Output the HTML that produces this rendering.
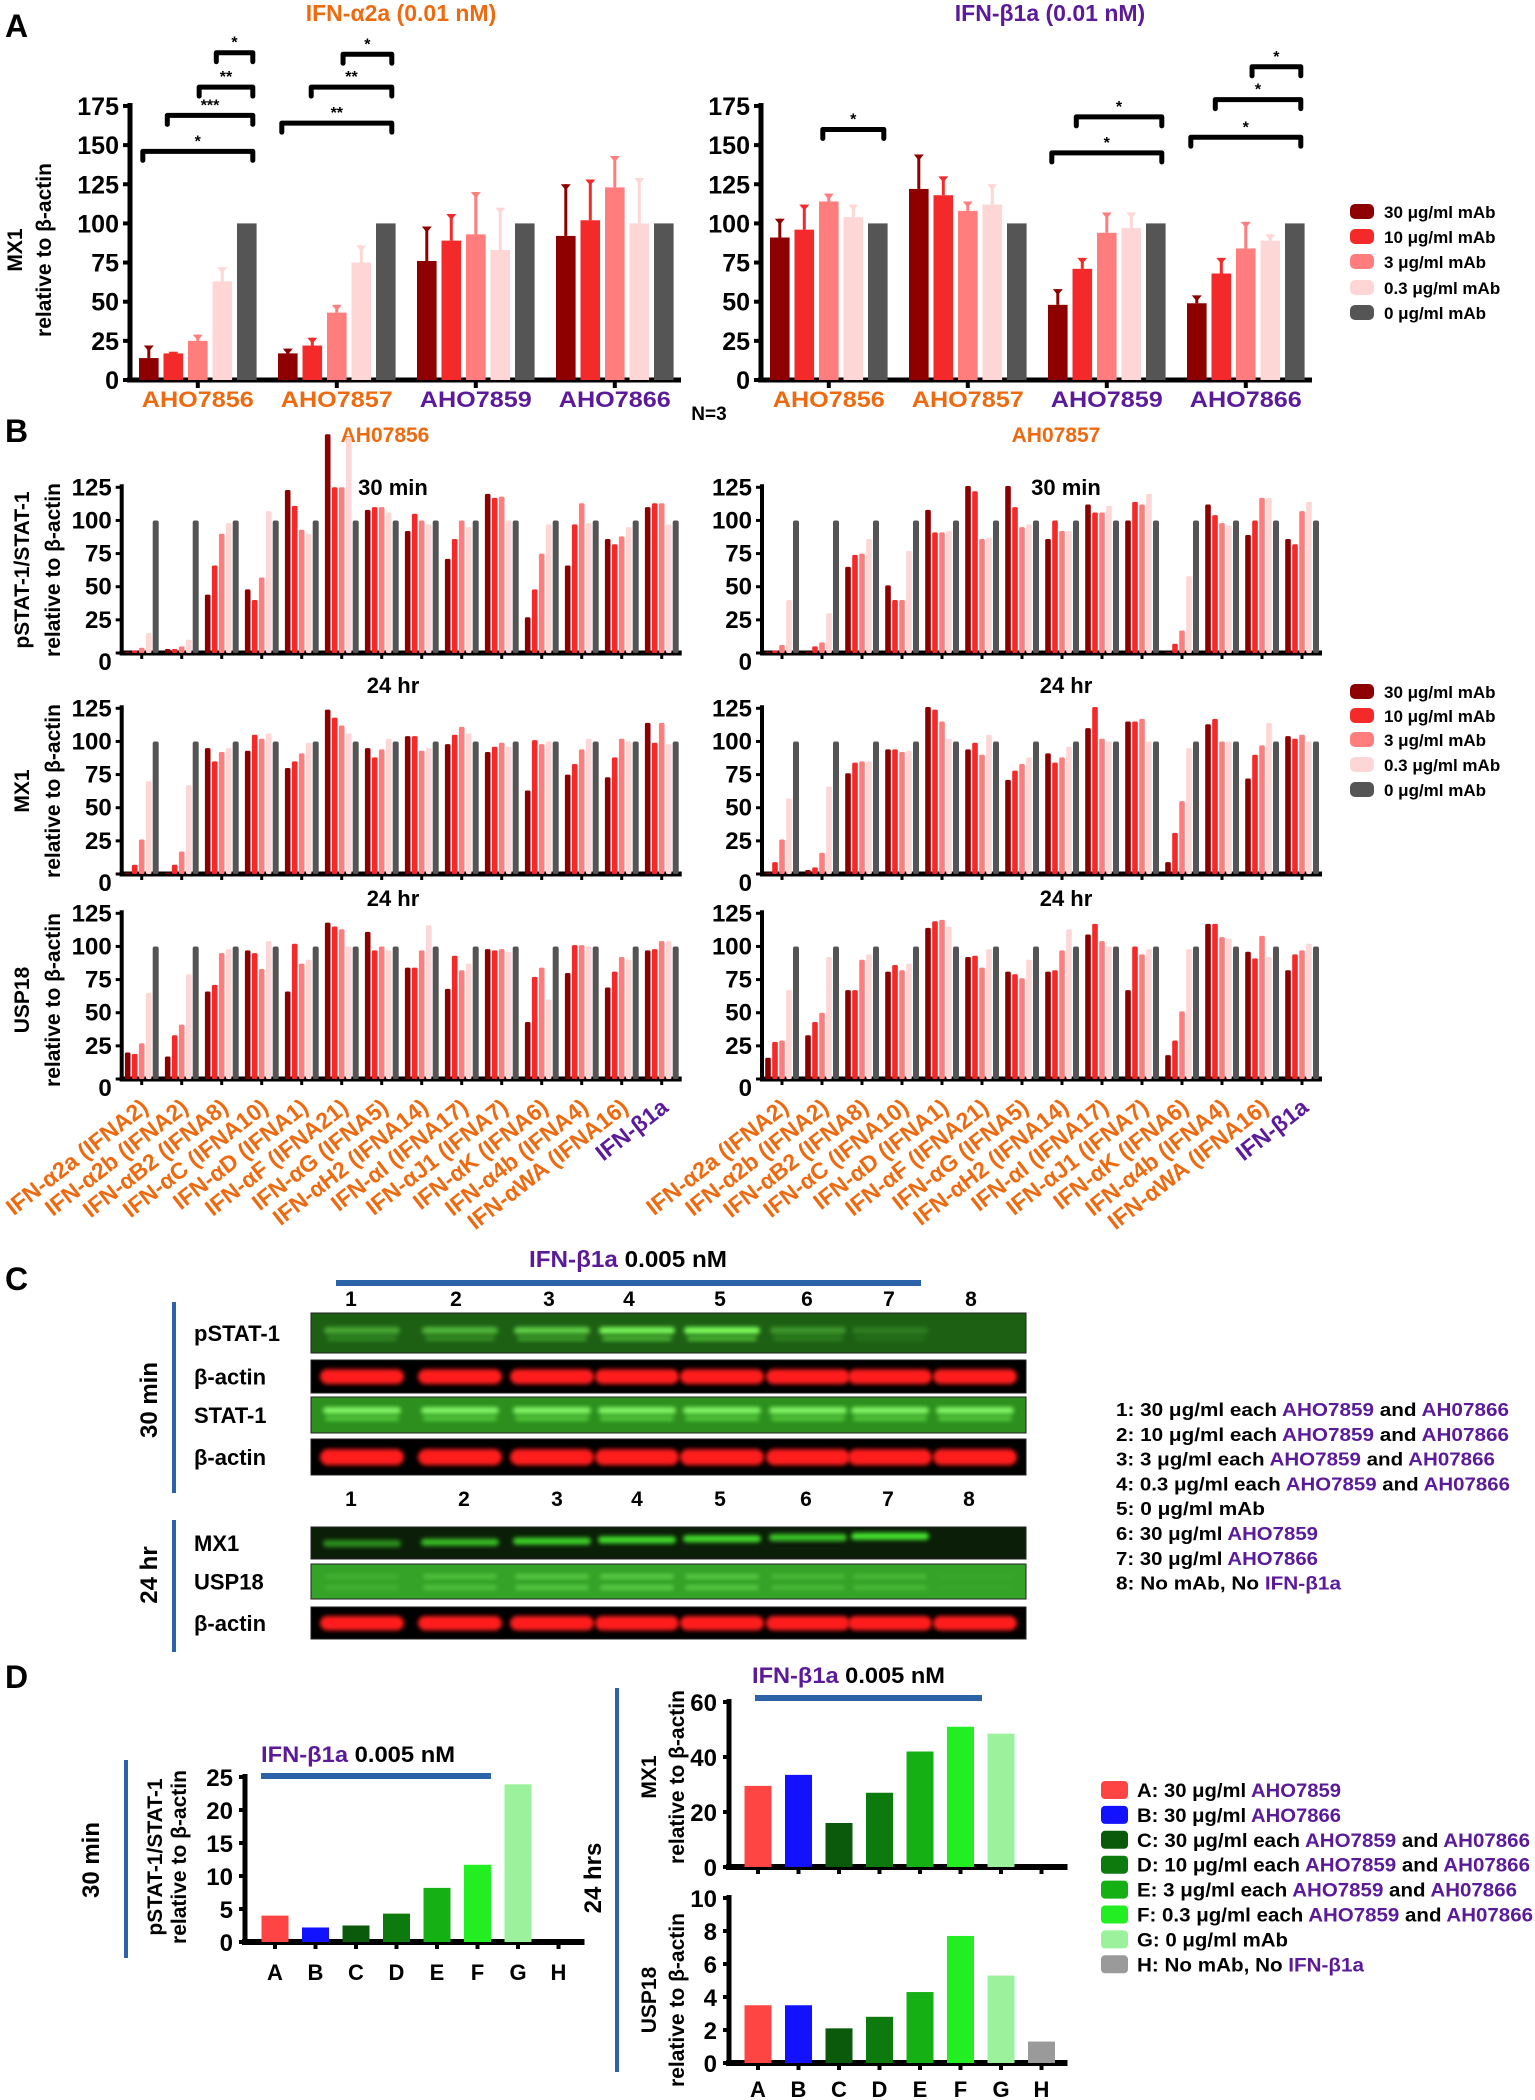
<!DOCTYPE html>
<html><head><meta charset="utf-8">
<style>
html,body{margin:0;padding:0;background:#fff;}
svg{display:block;font-family:"Liberation Sans",sans-serif;}
text{font-weight:bold;}
</style></head>
<body>
<svg id="fig" width="1535" height="2100" viewBox="0 0 1535 2100">
<defs><filter id="blur" x="-20%" y="-50%" width="140%" height="200%"><feGaussianBlur stdDeviation="2.2"/></filter></defs>
<text x="5" y="37" font-size="32" font-weight="normal">A</text>
<text x="401" y="21" font-size="23" fill="#ee6a10" text-anchor="middle">IFN-α2a (0.01 nM)</text>
<text x="1050" y="21" font-size="23" fill="#5a1a9a" text-anchor="middle">IFN-β1a (0.01 nM)</text>
<text transform="translate(22,250) rotate(-90)" font-size="21" text-anchor="middle">MX1</text>
<text transform="translate(51,250) rotate(-90)" font-size="21" text-anchor="middle">relative to β-actin</text>
<text x="709" y="420" font-size="19" text-anchor="middle">N=3</text>
<text x="5" y="442" font-size="32" font-weight="normal">B</text>
<text x="385" y="442" font-size="21" fill="#ee6a10" text-anchor="middle">AH07856</text>
<text x="1056" y="442" font-size="21" fill="#ee6a10" text-anchor="middle">AH07857</text>
<text x="5" y="1290" font-size="32" font-weight="normal">C</text>
<text x="5" y="1688" font-size="32" font-weight="normal">D</text>
</svg>
<script>
const SVGNS='http://www.w3.org/2000/svg';
const svg=document.getElementById('fig');
function mk(tag,attrs,parent){const el=document.createElementNS(SVGNS,tag);for(const k in attrs)el.setAttribute(k,attrs[k]);(parent||svg).appendChild(el);return el;}
const ORANGE='#ee6a10', PURPLE='#5a1a9a';
const mabColors=['#8e0000','#f42a2a','#ff7d7d','#ffd6d6','#555555'];
const mabLabels=['30 μg/ml mAb','10 μg/ml mAb','3 μg/ml mAb','0.3 μg/ml mAb','0 μg/ml mAb'];

/* ---------- Panel A data ---------- */
const aGroups=['AHO7856','AHO7857','AHO7859','AHO7866'];
const aGroupColor=[ORANGE,ORANGE,PURPLE,PURPLE];
const aTicks=[0,25,50,75,100,125,150,175];
const aLeftVals=[[14,17,25,63,100],[17,22,43,75,100],[76,89,93,83,100],[92,102,123,100,100]];
const aLeftErr=[[8,1,4,9,0],[3,5,5,11,0],[22,17,27,27,0],[33,26,20,29,0]];
const aRightVals=[[91,96,114,104,100],[122,118,108,112,100],[48,71,94,97,100],[49,68,84,89,100]];
const aRightErr=[[12,16,5,8,0],[22,12,6,13,0],[10,7,13,10,0],[5,10,17,4,0]];
const aLeftBrackets=[[0,0,4,146,'*'],[0,1,4,169,'***'],[0,2.3,4,187,'**'],[0,3,4,209,'*'],[1,0,4,164,'**'],[1,1.2,4,187,'**'],[1,2.5,4,208,'*']];
const aRightBrackets=[[0,2,4,160,'*'],[2,1,4,168,'*'],[2,0,4,145,'*'],[3,2.5,4,200,'*'],[3,1,4,179,'*'],[3,0,4,155,'*']];

function drawA(axisX,vals,errs,brackets,side){
  const y=v=>380-v*1.566;
  const bx=(g,k)=>axisX+18.8+139*g+24.5*k;
  const ax=mk('line',{x1:axisX,y1:382,x2:axisX,y2:y(175)-3,stroke:'#000','stroke-width':5});
  
  
  const xa=mk('line',{x1:axisX-3,y1:380,x2:axisX+551,y2:380,stroke:'#000','stroke-width':5});
  
  
  aTicks.forEach(t=>{
    const tk=mk('line',{x1:axisX-7,y1:y(t),x2:axisX,y2:y(t),stroke:'#000','stroke-width':4});
    
    
    const tl=mk('text',{x:axisX-11,y:y(t)+9,'font-size':25,'text-anchor':'end'});
    tl.textContent=t;
    
    
  });
  aGroups.forEach((gname,g)=>{
    const gl=mk('text',{x:bx(g,2),y:407,'font-size':22,'text-anchor':'middle',fill:aGroupColor[g],textLength:112,lengthAdjust:'spacingAndGlyphs'});
    gl.textContent=gname;
    
    
    const xt=mk('line',{x1:bx(g,2),y1:380,x2:bx(g,2),y2:388,stroke:'#000','stroke-width':4});
    
    
    vals[g].forEach((v,k)=>{
      const c=bx(g,k);
      const r=mk('rect',{x:c-9.8,y:y(v),width:19.6,height:380-y(v),fill:mabColors[k]});
      
      
      if(errs[g][k]>0){
        const e=mk('line',{x1:c,y1:y(v),x2:c,y2:y(v+errs[g][k]),stroke:mabColors[k],'stroke-width':3});
        
        
        const cap=mk('path',{d:`M${c-5},${y(v+errs[g][k])} L${c+5},${y(v+errs[g][k])} L${c},${y(v+errs[g][k])+6} Z`,fill:mabColors[k]});
        
        
      }
    });
  });
  brackets.forEach(b=>{
    const x1=bx(b[0],b[1])-6, x2=bx(b[0],b[2])+6, yy=y(b[3]);
    const p=mk('path',{d:`M${x1},${yy+9} L${x1},${yy} L${x2},${yy} L${x2},${yy+9}`,fill:'none',stroke:'#000','stroke-width':5,'stroke-linejoin':'round','stroke-linecap':'round'});
    
    
    const s=mk('text',{x:(x1+x2)/2,y:yy-5,'font-size':16,'text-anchor':'middle'});
    s.textContent=b[4];
    
    
  });
}
drawA(130,aLeftVals,aLeftErr,aLeftBrackets,'left');
drawA(761,aRightVals,aRightErr,aRightBrackets,'right');

function legend(x,ys,prefix){
  mabLabels.forEach((lab,i)=>{
    const s=mk('rect',{x:x,y:ys[i]-13,width:24,height:15,rx:5,fill:mabColors[i]});
    
    
    const t=mk('text',{x:x+34,y:ys[i]+1,'font-size':17});
    t.textContent=lab;
    
    
  });
}
legend(1350,[217,242,267,293,318],'a');

/* ---------- Panel B data ---------- */
const bCategories=['IFN-α2a (IFNA2)','IFN-α2b (IFNA2)','IFN-αB2 (IFNA8)','IFN-αC (IFNA10)','IFN-αD (IFNA1)','IFN-αF (IFNA21)','IFN-αG (IFNA5)','IFN-αH2 (IFNA14)','IFN-αI (IFNA17)','IFN-αJ1 (IFNA7)','IFN-αK (IFNA6)','IFN-α4b (IFNA4)','IFN-αWA (IFNA16)','IFN-β1a'];
const bTicks=[0,25,50,75,100,125];
const bL_pstat=[[1,2,4,15],[3,3,5,10],[44,66,90,98],[48,40,57,107],[123,111,93,90],[165,125,125,163],[108,110,110,106],[92,105,100,97],[71,86,100,95],[120,117,118,100],[27,48,75,97],[66,97,113,98],[86,82,88,95],[110,113,113,97]];
const bL_mx1=[[1,7,26,70],[1,7,17,67],[95,85,92,95],[93,105,102,106],[80,85,91,99],[124,118,112,106],[95,88,94,102],[104,104,93,95],[98,105,111,106],[92,96,99,96],[63,101,98,100],[75,83,94,102],[73,88,102,100],[114,99,114,98]];
const bL_usp=[[20,19,27,65],[17,33,41,79],[66,71,95,98],[97,95,83,104],[66,102,87,90],[118,115,113,100],[111,97,100,97],[84,84,97,116],[68,93,82,87],[98,97,98,96],[43,77,84,60],[80,101,101,100],[69,81,92,90],[97,98,104,104]];
const bR_pstat=[[1,2,6,40],[1,5,8,30],[65,74,75,86],[51,40,40,77],[108,91,91,92],[126,122,86,87],[126,110,95,97],[86,100,92,92],[112,106,106,111],[100,114,112,120],[0,7,17,58],[112,104,98,96],[89,100,117,117],[86,82,107,114]];
const bR_mx1=[[1,9,26,57],[3,5,16,66],[76,84,85,85],[94,94,92,93],[126,124,115,102],[94,99,90,105],[71,78,83,88],[91,84,88,96],[110,126,102,100],[115,115,117,100],[9,31,55,95],[113,117,100,100],[72,90,97,114],[104,102,105,100]];
const bR_usp=[[16,28,29,67],[33,43,50,92],[67,67,90,94],[81,86,82,87],[114,119,120,115],[92,93,84,98],[81,79,76,90],[81,82,97,113],[109,117,104,100],[67,100,94,98],[18,29,51,98],[117,117,107,106],[96,91,108,92],[82,94,97,102]];
const bControl=100;

function drawB(axisX,zeroY,vals,name){
  const u=165.7/125;
  const y=v=>zeroY-v*u;
  const gx=i=>axisX+34+40*i;
  const ax=mk('line',{x1:axisX,y1:zeroY+2,x2:axisX,y2:y(125)-3,stroke:'#000','stroke-width':4});
  
  
  const xa=mk('line',{x1:axisX-2,y1:zeroY,x2:gx(13)+6,y2:zeroY,stroke:'#000','stroke-width':5});
  
  
  bTicks.forEach(t=>{
    const tk=mk('line',{x1:axisX-6,y1:y(t),x2:axisX,y2:y(t),stroke:'#000','stroke-width':3});
    
    
    const tl=mk('text',{x:axisX-10,y:y(t)+(t===0?17:8),'font-size':24,'text-anchor':'end'});
    tl.textContent=t;
    
    
  });
  vals.forEach((grp,i)=>{
    const xt=mk('line',{x1:gx(i)-14,y1:zeroY,x2:gx(i)-14,y2:zeroY+6,stroke:'#000','stroke-width':3});
    
    
    grp.forEach((v,k)=>{
      const c=gx(i)-28+7*k, vv=Math.max(v,0.8);
      const r=mk('rect',{x:c-2.8,y:y(vv),width:5.6,height:zeroY-y(vv),fill:mabColors[k],rx:1.5});
      
      
    });
    const gr=mk('rect',{x:gx(i)-3,y:y(bControl),width:6,height:zeroY-y(bControl),fill:mabColors[4],rx:2});
    
    
  });
}
const rowZero=[653,874,1079];
drawB(121.7,rowZero[0],bL_pstat,'left-pstat');
drawB(121.7,rowZero[1],bL_mx1,'left-mx1');
drawB(121.7,rowZero[2],bL_usp,'left-usp18');
drawB(762,rowZero[0],bR_pstat,'right-pstat');
drawB(762,rowZero[1],bR_mx1,'right-mx1');
drawB(762,rowZero[2],bR_usp,'right-usp18');

[[393,'30 min',495],[393,'24 hr',693],[393,'24 hr',906],[1066,'30 min',495],[1066,'24 hr',693],[1066,'24 hr',906]].forEach(r=>{
  const t=mk('text',{x:r[0],y:r[2],'font-size':22,'text-anchor':'middle'});
  t.textContent=r[1];
  
  
});
[['pSTAT-1/STAT-1',29,570],['relative to β-actin',60,570],['MX1',29,791],['relative to β-actin',60,791],['USP18',29,1000],['relative to β-actin',60,1000]].forEach(r=>{
  const t=mk('text',{transform:`translate(${r[1]},${r[2]}) rotate(-90)`,'font-size':21,'text-anchor':'middle'});
  t.textContent=r[0];
  
  
});
[121.7,762].forEach(axisX=>{
  bCategories.forEach((c,i)=>{
    const x=axisX+34+40*i-14+8;
    const t=mk('text',{transform:`translate(${x},1110) rotate(-38)`,'font-size':23,'text-anchor':'end',fill:i===13?PURPLE:ORANGE});
    t.textContent=c;
    
    
  });
});
legend(1350,[697,721,745,770,795],'b');

/* ---------- Panel C (blots) ---------- */
const laneNums=['1','2','3','4','5','6','7','8'];
const laneNumX1=[351,456,549,629,720,807,889,971];
const laneNumX2=[351,464,557,637,720,806,888,969];
const bandX=[362,460,552,637,722,808,890,975];
const pstatI=[0.45,0.55,0.7,0.95,1.0,0.35,0.18,0];
const mx1I=[0.5,0.7,0.8,0.85,0.85,0.75,0.9,0];
const uspI=[0.2,0.4,0.5,0.55,0.5,0.3,0.3,0.05];
function blot(y0,h,bg,name,lbl,bandFn){
  const r=mk('rect',{x:311,y:y0,width:715,height:h,fill:bg,stroke:'#222','stroke-width':1});
  
  
  const t=mk('text',{x:194,y:y0+h/2+8,'font-size':22});
  t.textContent=lbl;
  
  
  bandX.forEach((x,i)=>bandFn(x,i,y0,h));
}
function band(x,y,w,h,col,op,name){
  const b=mk('rect',{x:x-w/2,y:y,width:w,height:h,rx:h/2,fill:col,opacity:op,filter:'url(#blur)'});
  
  
}
const redBand=(x,i,y0,h)=>band(x,y0+h*0.28,84,h*0.45,'#ff1a1a',1,'actin-band');
blot(1313,40,'#1d6014','pstat1','pSTAT-1',(x,i,y0,h)=>{ if(pstatI[i]>0){band(x,y0+14,76,7,'#7dff5a',pstatI[i],'pstat1-band');band(x,y0+23,70,5,'#5ee040',pstatI[i]*0.7,'pstat1-band');}});
blot(1360,33,'#000','actin1','β-actin',redBand);
blot(1397,36,'#2c8f1e','stat1','STAT-1',(x,i,y0,h)=>{band(x,y0+10,78,7,'#8aff6a',0.9,'stat1-band');band(x,y0+19,74,5,'#70f050',0.6,'stat1-band');});
blot(1439,36,'#000','actin2','β-actin',redBand);
blot(1527,32,'#0b1f08','mx1','MX1',(x,i,y0,h)=>{ if(mx1I[i]>0) band(x,y0+13-i*1.2,78,7,'#4cff30',mx1I[i],'mx1-band');});
blot(1564,35,'#34a328','usp18','USP18',(x,i,y0,h)=>{band(x,y0+10,74,5,'#7af060',uspI[i],'usp18-band');band(x,y0+21,74,5,'#7af060',uspI[i],'usp18-band');});
blot(1607,32,'#000','actin3','β-actin',redBand);
laneNums.forEach((n,i)=>{
  const a=mk('text',{x:laneNumX1[i],y:1306,'font-size':21,'text-anchor':'middle'});
  a.textContent=n;
  
  
  const b=mk('text',{x:laneNumX2[i],y:1506,'font-size':21,'text-anchor':'middle'});
  b.textContent=n;
  
  
});
const cLine=mk('line',{x1:336,y1:1283,x2:921,y2:1283,stroke:'#2c62a8','stroke-width':6});


[[1302,1493],[1520,1652]].forEach(s=>{
  const l=mk('line',{x1:174,y1:s[0],x2:174,y2:s[1],stroke:'#2c62a8','stroke-width':4});
  
  
});
[['30 min',1400],['24 hr',1575]].forEach(r=>{
  const t=mk('text',{transform:`translate(157,${r[1]}) rotate(-90)`,'font-size':24,'text-anchor':'middle'});
  t.textContent=r[0];
  
  
});
function richText(x,y,parts,len,fs,name){
  const t=mk('text',{x:x,y:y,'font-size':fs,textLength:len,lengthAdjust:'spacingAndGlyphs'});
  
  
  parts.forEach(p=>{const s=mk('tspan',{fill:p[1]||'#000'},t);s.textContent=p[0];});
  return t;
}
richText(529,1267,[['IFN-β1a ',PURPLE],['0.005 nM']],198,23,'c-title');
const cLegend=[
 [[['1: 30 μg/ml each '],['AHO7859',PURPLE],['  and '],['AH07866',PURPLE]],393],
 [[['2: 10 μg/ml each '],['AHO7859',PURPLE],['  and '],['AH07866',PURPLE]],393],
 [[['3: 3 μg/ml each '],['AHO7859',PURPLE],['  and '],['AH07866',PURPLE]],379],
 [[['4: 0.3 μg/ml each '],['AHO7859',PURPLE],['  and '],['AH07866',PURPLE]],394],
 [[['5: 0 μg/ml mAb']],149],
 [[['6: 30 μg/ml '],['AHO7859',PURPLE]],202],
 [[['7: 30 μg/ml '],['AHO7866',PURPLE]],202],
 [[['8: No mAb,  No '],['IFN-β1a',PURPLE]],225]];
cLegend.forEach((l,i)=>richText(1116,1416+24.8*i,l[0],l[1],18,'c-legend-entry'));

/* ---------- Panel D data ---------- */
const dLetters=['A','B','C','D','E','F','G','H'];
const dColors=['#ff4444','#1212ff','#0b5a0b','#0d7a0d','#14b014','#22ee22','#9cf29c','#9a9a9a'];
const dPstat=[4,2.2,2.5,4.3,8.2,11.7,23.9,0];
const dMx1=[29.5,33.5,16,27,42,51,48.5,0];
const dUsp=[3.5,3.5,2.1,2.8,4.3,7.7,5.3,1.3];
const dPstatTicks=[0,5,10,15,20,25];
const dMx1Ticks=[0,20,40,60];
const dUspTicks=[0,2,4,6,8,10];
function drawD(axisX,zeroY,unit,firstX,vals,ticks,name,showLetters,letterY){
  const y=v=>zeroY-v*unit;
  const top=y(ticks[ticks.length-1]);
  const ax=mk('line',{x1:axisX,y1:zeroY+2,x2:axisX,y2:top-3,stroke:'#000','stroke-width':5});
  
  
  const xa=mk('line',{x1:axisX-3,y1:zeroY,x2:firstX+40.5*7+26,y2:zeroY,stroke:'#000','stroke-width':6});
  
  
  ticks.forEach(t=>{
    const tk=mk('line',{x1:axisX-6,y1:y(t),x2:axisX,y2:y(t),stroke:'#000','stroke-width':4});
    
    
    const tl=mk('text',{x:axisX-12,y:y(t)+9,'font-size':24,'text-anchor':'end'});
    tl.textContent=t;
    
    
  });
  vals.forEach((v,i)=>{
    const c=firstX+40.5*i;
    const xt=mk('line',{x1:c,y1:zeroY,x2:c,y2:zeroY+7,stroke:'#000','stroke-width':4});
    
    
    if(v>0){
      const r=mk('rect',{x:c-13.5,y:y(v),width:27,height:zeroY-y(v),fill:dColors[i]});
      
      
    }
    if(showLetters){
      const l=mk('text',{x:c,y:letterY,'font-size':22,'text-anchor':'middle','font-weight':'normal'});
      l.textContent=dLetters[i];
      
      
    }
  });
}
drawD(245,1942,6.6,275,dPstat,dPstatTicks,'d-pstat',true,1980);
drawD(729,1867,2.75,758,dMx1,dMx1Ticks,'d-mx1',false,0);
drawD(729,2063,16.5,758,dUsp,dUspTicks,'d-usp18',true,2097);
richText(261,1762,[['IFN-β1a ',PURPLE],['0.005 nM']],194,22,'d-left-title');
richText(752,1683,[['IFN-β1a ',PURPLE],['0.005 nM']],193,22,'d-right-title');
[[261,491,1776],[755,982,1698]].forEach(s=>{
  const l=mk('line',{x1:s[0],y1:s[2],x2:s[1],y2:s[2],stroke:'#2c62a8','stroke-width':6});
  
  
});
[[126,1760,1958],[617,1688,2072]].forEach(s=>{
  const l=mk('line',{x1:s[0],y1:s[1],x2:s[0],y2:s[2],stroke:'#2c62a8','stroke-width':4});
  
  
});
[['30 min',99,1860,24],['24 hrs',601,1878,24],['pSTAT-1/STAT-1',162,1857,21],['relative to β-actin',186,1857,21],['MX1',656,1777,21],['relative to β-actin',684,1777,21],['USP18',656,2000,21],['relative to β-actin',684,2000,21]].forEach(r=>{
  const t=mk('text',{transform:`translate(${r[1]},${r[2]}) rotate(-90)`,'font-size':r[3],'text-anchor':'middle'});
  t.textContent=r[0];
  
  
});
const dLegend=[
 [[['A:  30 μg/ml '],['AHO7859',PURPLE]],204],
 [[['B: 30 μg/ml '],['AHO7866',PURPLE]],204],
 [[['C: 30 μg/ml each '],['AHO7859',PURPLE],['  and '],['AH07866',PURPLE]],393],
 [[['D: 10 μg/ml each '],['AHO7859',PURPLE],['  and '],['AH07866',PURPLE]],393],
 [[['E: 3 μg/ml each '],['AHO7859',PURPLE],['  and '],['AH07866',PURPLE]],380],
 [[['F: 0.3 μg/ml each '],['AHO7859',PURPLE],['  and '],['AH07866',PURPLE]],396],
 [[['G: 0 μg/ml mAb']],151],
 [[['H: No mAb,  No '],['IFN-β1a',PURPLE]],227]];
dLegend.forEach((l,i)=>{
  const yy=1790+24.9*i;
  const s=mk('rect',{x:1101,y:yy-9,width:27,height:18,rx:4,fill:dColors[i]});
  
  
  richText(1137,yy+7,l[0],l[1],19,'d-legend-entry');
});
</script>
</body></html>
